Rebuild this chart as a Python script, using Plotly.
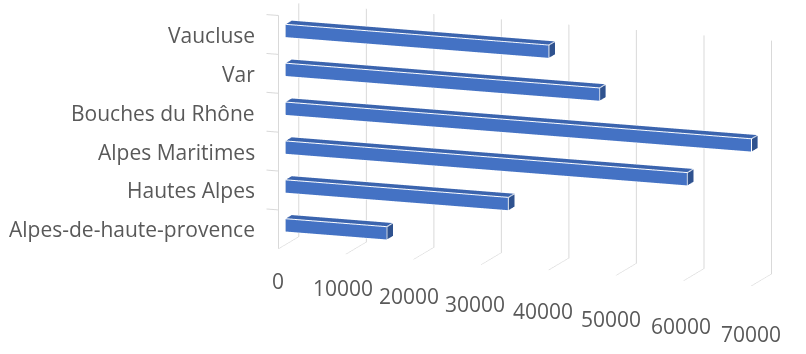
import math
import plotly.graph_objects as go

categories = ["Alpes-de-haute-provence", "Hautes Alpes", "Alpes Maritimes",
              "Bouches du Rhône", "Var", "Vaucluse"]
values = [15000, 33000, 59500, 69000, 46500, 39000]
x_ticks = [0, 10000, 20000, 30000, 40000, 50000, 60000, 70000]

FRONT = "#4472C4"
TOP = "#3B64AE"
END = "#2F528F"
GRID = "#D9D9D9"
TEXT = "#595959"

X_MIN = -1800
n_cat = len(categories)

xs, ys, zs, ii, jj, kk, fcol = [], [], [], [], [], [], []
ex, ey, ez = [], [], []
half = 0.165
y0, y1 = 0.35, 0.65
for n, v in enumerate(values):
    zc = n + 0.5
    base = len(xs)
    corners = [(0, y0, zc - half), (v, y0, zc - half), (v, y1, zc - half), (0, y1, zc - half),
               (0, y0, zc + half), (v, y0, zc + half), (v, y1, zc + half), (0, y1, zc + half)]
    for c in corners:
        xs.append(c[0]); ys.append(c[1]); zs.append(c[2])
    faces = [
        ((0, 1, 5), FRONT), ((0, 5, 4), FRONT),
        ((3, 2, 6), FRONT), ((3, 6, 7), FRONT),
        ((4, 5, 6), TOP), ((4, 6, 7), TOP),
        ((0, 1, 2), FRONT), ((0, 2, 3), FRONT),
        ((1, 2, 6), END), ((1, 6, 5), END),
        ((0, 3, 7), END), ((0, 7, 4), END),
    ]
    for (a, b, c), col in faces:
        ii.append(base + a); jj.append(base + b); kk.append(base + c); fcol.append(col)
    for p, q in [(4, 5), (5, 1), (5, 6), (6, 7), (7, 4), (0, 1), (1, 2), (2, 6), (0, 4)]:
        ex += [corners[p][0], corners[q][0], None]
        ey += [corners[p][1], corners[q][1], None]
        ez += [corners[p][2], corners[q][2], None]

fig = go.Figure()
fig.add_trace(go.Mesh3d(x=xs, y=ys, z=zs, i=ii, j=jj, k=kk, facecolor=fcol,
                        flatshading=True,
                        lighting=dict(ambient=1.0, diffuse=0.0, specular=0.0, roughness=1, fresnel=0),
                        hoverinfo="skip", showscale=False))
fig.add_trace(go.Scatter3d(x=ex, y=ey, z=ez, mode="lines",
                           line=dict(color="white", width=2), hoverinfo="skip", showlegend=False))

# category axis line and tick marks (front-left edge)
axx, axy, axz = [0, 0], [0, 0], [0, n_cat]
axx.append(None); axy.append(None); axz.append(None)
for b in range(1, n_cat + 1):
    axx += [0, X_MIN, None]; axy += [0, 0, None]; axz += [b, b, None]
fig.add_trace(go.Scatter3d(x=axx, y=axy, z=axz, mode="lines",
                           line=dict(color=GRID, width=2), hoverinfo="skip", showlegend=False))

font = dict(family="Open Sans, Liberation Sans, sans-serif", size=21, color=TEXT)
annotations = []
for n, name in enumerate(categories):
    annotations.append(dict(x=0, y=0, z=n + 0.5, text=name, showarrow=False,
                            xanchor="right", yanchor="middle", xshift=-21, font=font))
for t in x_ticks:
    frac = t / x_ticks[-1]
    annotations.append(dict(x=t, y=0, z=0, text=str(t), showarrow=False,
                            xanchor="center", yanchor="top",
                            yshift=-16 - 16 * frac, xshift=-6 * math.sin(math.pi * frac),
                            font=font))

th = math.radians(20)
ph = math.radians(12.5)
d = 2.0
cx, cy, cz = -0.6969, 0.0, -0.2424
eye = dict(x=cx + d * math.sin(th) * math.cos(ph),
           y=cy - d * math.cos(th) * math.cos(ph),
           z=cz + d * math.sin(ph))

fig.update_layout(
    width=806, height=354,
    margin=dict(l=0, r=0, t=0, b=0),
    paper_bgcolor="white",
    showlegend=False,
    scene=dict(
        domain=dict(x=[0, 1], y=[0, 1]),
        aspectmode="manual",
        aspectratio=dict(x=2.915, y=0.336, z=1.35),
        xaxis=dict(range=[X_MIN, 70000], tickvals=x_ticks,
                   showgrid=True, gridcolor=GRID, gridwidth=2, zeroline=False,
                   showline=False, showbackground=False, title=dict(text=""),
                   showticklabels=False, showspikes=False, ticks=""),
        yaxis=dict(range=[0, 1], showgrid=False, zeroline=False, showline=False,
                   showticklabels=False, showbackground=False, title=dict(text=""),
                   showspikes=False, ticks=""),
        zaxis=dict(range=[0, n_cat], showgrid=False, zeroline=False, showline=False,
                   showbackground=False, showticklabels=False,
                   title=dict(text=""), showspikes=False, ticks=""),
        camera=dict(eye=eye, center=dict(x=cx, y=cy, z=cz),
                    up=dict(x=0, y=0, z=1), projection=dict(type="orthographic")),
        annotations=annotations,
    ),
)
fig.write_html("out.html", config={"displayModeBar": False})
